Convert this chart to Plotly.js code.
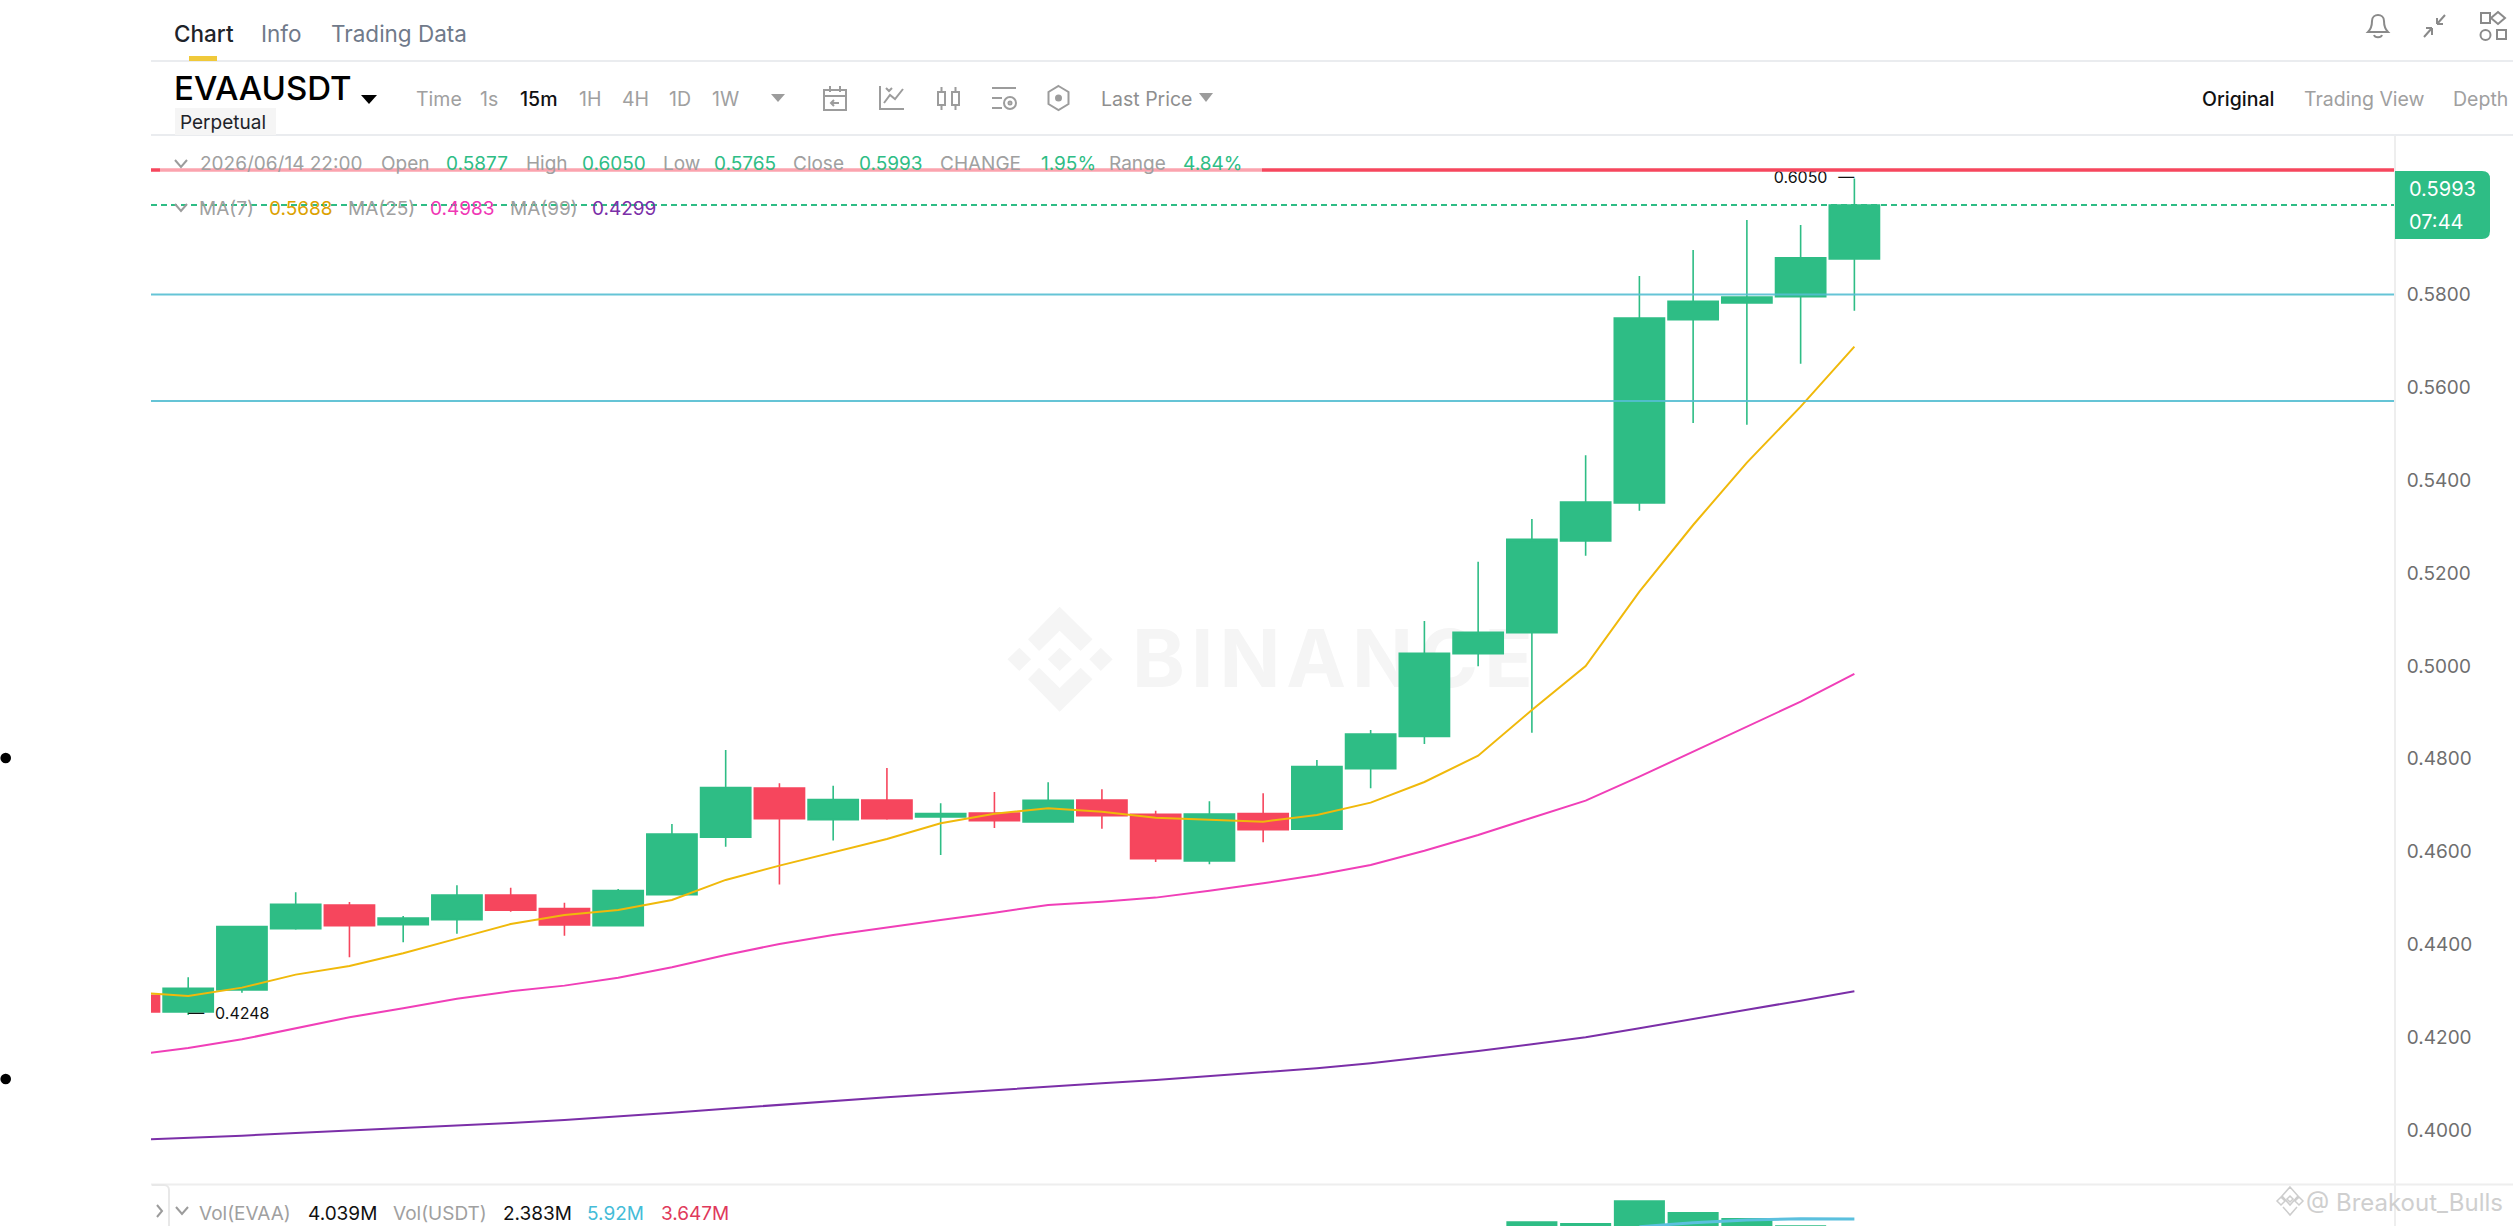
<!DOCTYPE html>
<html><head><meta charset="utf-8">
<script src="https://cdn.plot.ly/plotly-3.0.1.min.js"></script>
<style>
html,body{margin:0;padding:0;background:#fff;width:2513px;height:1226px;overflow:hidden;font-family:Inter,sans-serif}
#wm{position:absolute;left:0;top:0;width:2513px;height:1226px;z-index:0}
#wmText{position:absolute;left:1132px;top:610px;font:700 80px/96px Inter,sans-serif;color:#f5f5f5;letter-spacing:6px;white-space:nowrap}
#plot{position:absolute;left:0;top:0;width:2513px;height:1226px;z-index:1}
#icons{position:absolute;left:0;top:0;z-index:2;pointer-events:none}
</style></head><body>
<div id="wm">
<svg style="position:absolute;left:960px;top:590px" width="620" height="140" viewBox="0 0 1568 420" preserveAspectRatio="none" fill="#f5f5f5">
<polygon points="252,50 335,148 305,183 252,122 200,183 172,148"/>
<polygon points="252,173 283,208 252,243 222,208"/>
<polygon points="150,173 180,208 150,243 120,208"/>
<polygon points="356,173 386,208 356,243 327,208"/>
<polygon points="252,365 335,268 305,233 252,294 200,233 172,268"/>
</svg>
<div id="wmText">BINANCE</div>
</div>
<div id="plot"></div>
<svg id="icons" width="2513" height="1226" fill="none" stroke="#9c9c9c" stroke-width="2">
<circle cx="5.7" cy="758" r="5.3" fill="#000" stroke="none"/>
<circle cx="5.7" cy="1079" r="5.3" fill="#000" stroke="none"/>
<polygon points="361,95 377,95 369,104" fill="#000" stroke="none"/>
<polygon points="771,94 785,94 778,102" fill="#9c9c9c" stroke="none"/>
<polygon points="1199,93 1213,93 1206,102" fill="#9c9c9c" stroke="none"/>
<!-- calendar -->
<path d="M824 90h22v20h-22zM824 96h22M830 86v6M840 86v6M839 103h-8M834 100l-3 3 3 3"/>
<!-- line chart -->
<path d="M880 86v23h24M884 103l6-8 5 4 8-10M886 88l3 3 3-3"/>
<!-- candles -->
<path d="M938 92h7v13h-7zM941.5 87v5M941.5 105v5M952 92h7v13h-7zM955.5 87v5M955.5 105v5"/>
<!-- settings -->
<path d="M992 88h24M992 98h10M992 108h10"/><circle cx="1010" cy="103" r="6"/><circle cx="1010" cy="103" r="1.5"/>
<!-- hexagon -->
<path d="M1058.500 86l10 6v12l-10 6-10-6v-12z"/><circle cx="1058.500" cy="98" r="2.500" fill="#9c9c9c"/>
<!-- bell -->
<path d="M2368 32c3-3 4-6 4-11 0-4 3-6 6-6s6 2 6 6c0 5 1 8 4 11zM2374 35c1 3 7 3 8 0" stroke="#8a8a8a"/>
<!-- compress -->
<path d="M2424 37l8-9M2432 28v7M2432 28h-6M2445 15l-8 9M2437 24v-6M2437 24h6" stroke="#8a8a8a"/>
<!-- grid -->
<path d="M2481 13h9v10h-9zM2498 12l7 6-7 6-7-6zM2497 30h9v9h-9z" stroke="#8a8a8a"/><circle cx="2485.500" cy="35" r="5" stroke="#8a8a8a"/>
<!-- chevrons -->
<path d="M175 160l6 7 6-7M175 204l6 7 6-7M176 1207l6 7 6-7M157 1205l5 6-5 6"/>
<path d="M152 1185h12a5 5 0 0 1 5 5v36" stroke="#e8e8e8"/>
<!-- watermark mark -->
<path d="M2290 1187l8 9-8 9-8-9zM2290 1196l3 3-3 3-3-3zM2281 1197l4 4-4 4-4-4zM2299 1197l4 4-4 4-4-4zM2283 1207l7 8 7-8" stroke="#cdcdcd" stroke-width="1.5"/>
</svg>
<script>
// 15-minute bars, 2026/06/14
const times = ["14:00","14:15","14:30","14:45","15:00","15:15","15:30","15:45","16:00","16:15","16:30","16:45","17:00","17:15","17:30","17:45","18:00","18:15","18:30","18:45","19:00","19:15","19:30","19:45","20:00","20:15","20:30","20:45","21:00","21:15","21:30","21:45","22:00"];
const open  = [.42905,.42546,.43019,.44341,.44851,.44427,.44535,.45066,.44772,.44405,.45073,.46308,.47371,.46689,.47113,.46746,.46833,.46639,.47113,.46804,.45799,.46818,.46481,.47787,.48483,.50264,.50717,.52691,.5351,.57459,.57818,.57955,.5877];
const high  = [.4295,.43292,.4440,.45124,.44915,.44614,.45274,.45224,.44901,.45195,.46596,.4819,.47472,.47421,.47802,.47041,.47285,.47493,.47342,.46883,.47084,.47256,.47974,.4862,.50968,.52246,.53165,.54537,.584,.5896,.59606,.59499,.605];
const low   = [.4253,.4248,.42962,.44319,.43723,.44046,.44233,.44707,.4419,.44405,.45052,.46107,.45289,.46237,.46689,.45928,.46509,.46639,.46495,.45777,.45727,.46201,.46481,.47363,.48318,.49991,.48562,.52375,.53345,.55233,.55197,.56512,.5765];
const close = [.42546,.43056,.44384,.44865,.44405,.44571,.45066,.44736,.4442,.45159,.4638,.47378,.4671,.4712,.4671,.46818,.46667,.47105,.46775,.45849,.46811,.46474,.47831,.48534,.50272,.50724,.52727,.53531,.57495,.57854,.57948,.58795,.5993];
const ma7   = [.4297,.4289,.4307,.4335,.43537,.43809,.44125,.44441,.44635,.44743,.44958,.4539,.45698,.45985,.46272,.4661,.46818,.46933,.46861,.46732,.46682,.46646,.4679,.47055,.475,.48067,.49051,.49999,.516,.53036,.54379,.55585,.5688];
const ma25  = [.41619,.4177,.41956,.42193,.4243,.42624,.42832,.4299,.43113,.43285,.43508,.43774,.44011,.44204,.4437,.44528,.44685,.44851,.44922,.45009,.45159,.45317,.45497,.45712,.4602,.46358,.46731,.47098,.47615,.48153,.48692,.4923,.4983];
const ma99  = [.39787,.3983,.39881,.39938,.39988,.40046,.40096,.40154,.40218,.4029,.40376,.40462,.40549,.40627,.40707,.40785,.40864,.40943,.41008,.4108,.41159,.41238,.41331,.41439,.41568,.41705,.41848,.41999,.42193,.42401,.42595,.42789,.4299];
// volume is only visible above the bottom edge of the page; other bars are off screen
const volume = [null,null,null,null,null,null,null,null,null,null,null,null,null,null,null,null,null,null,null,null,null,null,null,null,null,null,5500000,5200000,9400000,7200000,6100000,4750000,4039000];
const volMA  = [null,null,null,null,null,null,null,null,null,null,null,null,null,null,null,null,null,null,null,null,null,null,null,null,null,null,null,null,4500000,5250000,5740000,5980000,5920000];

const priceTicks = [.40,.42,.44,.46,.48,.50,.52,.54,.56,.58];
const lastPrice = .5993;
const redLevel = .60684;
const cyanLevels = [.58,.55708];
const highLabel = "0.6050\u2002\u2009—";
const lowLabel = "—\u2002\u20090.4248";

const UP = "#2ebd85", DOWN = "#f6465d", GREY = "#a0a0a0", TAB = "#707a8a";

const W = 2513, H = 1226;
const px = x => x / W, py = y => 1 - y / H;
function T(text, x, y, color, size, weight, anchor) {
  return {text, x: px(x), y: py(y), xref: "paper", yref: "paper", showarrow: false, xanchor: anchor || "left", yanchor: "middle",
          borderpad: 0, font: {family: "Inter, sans-serif", color, size: size || 19, weight: weight || 400}};
}

const tabs = [["Chart",173,"#1e2329",500],["Info",260,TAB,400],["Trading Data",330,TAB,400]];
const toolbar = [["Time",414.500,GREY],["1s",479,GREY],["15m",518.500,"#111",500],["1H",578,GREY],["4H",621,GREY],["1D",668,GREY],["1W",711,GREY],["Last Price",1100,"#8f8f8f"]];
const views = [["Original",2201,"#111",500],["Trading View",2303,GREY],["Depth",2452,GREY]];
const infoRow = [["2026/06/14 22:00",198.500,GREY],["Open",379.500,GREY],["0.5877",444.500,UP],["High",524.500,GREY],["0.6050",580.500,UP],["Low",661.500,GREY],["0.5765",712.500,UP],["Close",792.500,GREY],["0.5993",857.500,UP],["CHANGE",938.500,GREY],["1.95%",1039.500,UP],["Range",1107.500,GREY],["4.84%",1181.500,UP]];
const maRow = [["MA(7)",197.500,GREY],["0.5688",267.500,"#dca100"],["MA(25)",346.500,GREY],["0.4983",428.500,"#f037b5"],["MA(99)",508.500,GREY],["0.4299",590.500,"#7b2fa8"]];
const volRow = [["Vol(EVAA)",198,GREY],["4.039M",306.500,"#111"],["Vol(USDT)",391.500,GREY],["2.383M",501.500,"#111"],["5.92M",585.500,"#45bcd8"],["3.647M",659.500,"#e0395b"]];

const annotations = [
  ...tabs.map(r => T(r[0], r[1], 33, r[2], 22.500, r[3])),
  T("EVAAUSDT", 172.500, 88, "#000", 33, 500),
  T("Perpetual", 179, 122, "#1e2329", 19),
  ...toolbar.map(r => T(r[0], r[1], 99, r[2], 19.500, r[3])),
  ...views.map(r => T(r[0], r[1], 99, r[2], 19.500, r[3])),
  ...infoRow.map(r => T(r[0], r[1], 164, r[2], 19)),
  ...maRow.map(r => T(r[0], r[1], 208, r[2], 19)),
  ...volRow.map(r => T(r[0], r[1], 1213, r[2], 19)),
  T("0.5993", 2408, 189, "#fff", 20),
  T("07:44", 2408, 222, "#fff", 20),
  T("@ Breakout_Bulls", 2504, 1202, "#cfcfcf", 24, 400, "right")
];

function rect(x0, y0, x1, y1, fill, layer, opacity) {
  return {type: "rect", xref: "paper", yref: "paper", x0: px(x0), x1: px(x1), y0: py(y0), y1: py(y1),
          fillcolor: fill, line: {width: 0}, layer: layer || "above", opacity: opacity == null ? 1 : opacity};
}
function level(y, color, width, dash, layer) {
  return {type: "line", xref: "paper", yref: "y", x0: px(151), x1: px(2394), y0: y, y1: y,
          line: {color, width, dash: dash || "solid"}, layer: layer || "above"};
}
// rounded price tag
const r = 8, tx0 = 2395, tx1 = 2490, ty0 = 171, ty1 = 239;
const tag = {type: "path", xref: "paper", yref: "paper", fillcolor: UP, line: {width: 0}, path:
  `M ${px(tx0)} ${py(ty0)} L ${px(tx1 - r)} ${py(ty0)} Q ${px(tx1)} ${py(ty0)} ${px(tx1)} ${py(ty0 + r)} L ${px(tx1)} ${py(ty1 - r)} Q ${px(tx1)} ${py(ty1)} ${px(tx1 - r)} ${py(ty1)} L ${px(tx0)} ${py(ty1)} Z`};

const shapes = [
  level(lastPrice, UP, 2.2, "6px,4px", "below"),
  level(cyanLevels[0], "rgba(84,190,210,.9)", 2),
  level(cyanLevels[1], "rgba(84,190,210,.9)", 2),
  level(redLevel, DOWN, 3.5),
  rect(160, 162, 1262, 178, "#fff", "above", .5),
  rect(151, 60, W, 62, "#eaecef"),
  rect(151, 134, W, 136, "#eaecef"),
  rect(151, 1183.5, W, 1185.5, "#eeeeee"),
  rect(189, 56, 217, 61, "#f0c93a"),
  rect(175, 108, 276, 135, "#f5f5f5"),
  tag
];

const traces = [
  {type: "bar", x: times, y: volume, yaxis: "y2", marker: {color: UP, line: {width: 0}}, width: .95, hoverinfo: "skip", showlegend: false},
  {type: "scatter", mode: "lines", x: times, y: volMA, yaxis: "y2", line: {color: "#5bc0de", width: 3}, hoverinfo: "skip", showlegend: false, connectgaps: false},
  {type: "candlestick", x: times, open, high, low, close, whiskerwidth: 0, hoverinfo: "skip", showlegend: false,
   increasing: {line: {color: UP, width: 1.6}, fillcolor: UP},
   decreasing: {line: {color: DOWN, width: 1.6}, fillcolor: DOWN}},
  {type: "scatter", mode: "lines", x: times, y: ma7,  line: {color: "#f0b90b", width: 2}, hoverinfo: "skip", showlegend: false},
  {type: "scatter", mode: "lines", x: times, y: ma25, line: {color: "#f03fb8", width: 2}, hoverinfo: "skip", showlegend: false},
  {type: "scatter", mode: "lines", x: times, y: ma99, line: {color: "#7b2fa8", width: 2}, hoverinfo: "skip", showlegend: false},
  {type: "scatter", mode: "text", x: [times[32]], y: [.605], text: [highLabel], textposition: "middle left",
   textfont: {family: "Inter, sans-serif", size: 16, color: "#111"}, hoverinfo: "skip", showlegend: false},
  {type: "scatter", mode: "text", x: [times[1]], y: [.4248], text: [lowLabel], textposition: "middle right",
   textfont: {family: "Inter, sans-serif", size: 16, color: "#111"}, hoverinfo: "skip", showlegend: false}
];

const layout = {
  width: W, height: H, margin: {l: 0, r: 0, t: 0, b: 0},
  paper_bgcolor: "rgba(0,0,0,0)", plot_bgcolor: "rgba(0,0,0,0)",
  showlegend: false, dragmode: false, boxmode: "group", boxgap: .066, boxgroupgap: 0, barmode: "overlay",
  xaxis: {type: "category", domain: [px(151), px(2394)], range: [.3078, 42.04], visible: false, fixedrange: true, rangeslider: {visible: false}, anchor: "y"},
  yaxis: {domain: [41 / H, (H - 135) / H], range: [.38818, .61438], side: "right", tickmode: "array", tickvals: priceTicks, tickformat: ".4f",
          showgrid: false, zeroline: false, showline: true, linecolor: "#eeeeee", linewidth: 2, ticks: "", ticklabelstandoff: 7,
          tickfont: {family: "Inter, sans-serif", size: 19, color: "#6f6f6f"}, fixedrange: true, anchor: "x"},
  yaxis2: {domain: [0, 41 / H], range: [4630000, 12220000], side: "right", tickmode: "array", tickvals: [5000000], ticktext: ["5M"],
           showgrid: false, zeroline: false, showline: true, linecolor: "#eeeeee", linewidth: 2, ticks: "", ticklabelstandoff: 7,
           tickfont: {family: "Inter, sans-serif", size: 19, color: "#6f6f6f"}, fixedrange: true, anchor: "x"},
  annotations, shapes
};
Plotly.newPlot("plot", traces, layout, {displayModeBar: false, staticPlot: true});
</script>
</body></html>
